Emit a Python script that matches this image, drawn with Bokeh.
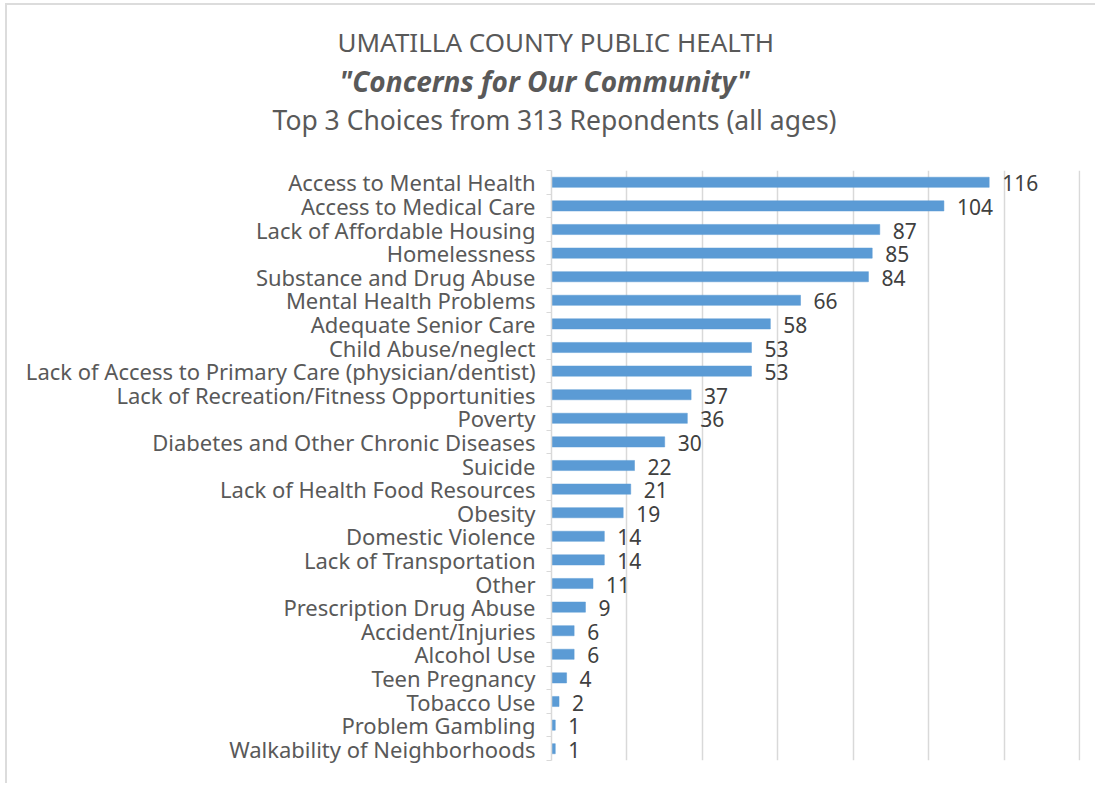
from bokeh.plotting import figure
from bokeh.models import Range1d, FixedTicker, Title, LabelSet, ColumnDataSource
from bokeh.core.properties import value
from bokeh.embed import file_html
from bokeh.resources import INLINE

categories = [
    "Access to Mental Health",
    "Access to Medical Care",
    "Lack of Affordable Housing",
    "Homelessness",
    "Substance and Drug Abuse",
    "Mental Health Problems",
    "Adequate Senior Care",
    "Child Abuse/neglect",
    "Lack of Access to Primary Care (physician/dentist)",
    "Lack of Recreation/Fitness Opportunities",
    "Poverty",
    "Diabetes and Other Chronic Diseases",
    "Suicide",
    "Lack of Health Food Resources",
    "Obesity",
    "Domestic Violence",
    "Lack of Transportation",
    "Other",
    "Prescription Drug Abuse",
    "Accident/Injuries",
    "Alcohol Use",
    "Teen Pregnancy",
    "Tobacco Use",
    "Problem Gambling",
    "Walkability of Neighborhoods",
]
counts = [116, 104, 87, 85, 84, 66, 58, 53, 53, 37, 36, 30, 22, 21, 19, 14, 14, 11, 9, 6, 6, 4, 2, 1, 1]
x_ticks = [0, 20, 40, 60, 80, 100, 120, 140]
title_lines = [
    "UMATILLA  COUNTY  PUBLIC HEALTH",
    "\"Concerns for Our Community\"",
    "Top 3 Choices from 313  Repondents (all ages)",
]

FONT = "Noto Sans"
GRAY = "#595959"
n = len(categories)
ypos = list(range(n))
src = ColumnDataSource(dict(y=ypos, v=counts, lbl=[str(c) for c in counts]))

W, H = 1090, 780
ML, MR, MT, MB = 544, 17, 165, 25

p = figure(width=W, height=H, x_range=Range1d(0, 140.2), y_range=Range1d(n - 0.5, -0.5),
           output_backend="svg", toolbar_location=None, x_axis_location=None, title=None,
           min_border_left=ML, min_border_right=MR, min_border_top=MT, min_border_bottom=MB)
p.outline_line_color = None
p.background_fill_color = "white"
p.border_fill_color = "white"
p.styles = {"border-left": "2px solid #DCDCDC", "border-top": "2px solid #DCDCDC",
            "margin-left": "5px", "margin-top": "3px"}

p.xgrid.ticker = FixedTicker(ticks=x_ticks)
p.xgrid.grid_line_color = "#D9D9D9"
p.xgrid.grid_line_width = 1.5
p.ygrid.visible = False

p.hbar(y="y", left=0, right="v", height=0.43, source=src,
       fill_color="#5B9BD5", line_color="#5B9BD5", line_width=0.5)

labels = LabelSet(x="v", y="y", text="lbl", source=src, x_offset=13, y_offset=-1,
                  text_baseline="middle", text_align="left",
                  text_font=value(FONT), text_font_size="21px", text_color="#404040")
p.add_layout(labels)

ax = p.yaxis[0]
ax.ticker = FixedTicker(ticks=ypos, minor_ticks=[i - 0.5 for i in range(n + 1)])
ax.major_label_overrides = {i: c for i, c in zip(ypos, categories)}
ax.axis_line_color = "#D9D9D9"
ax.axis_line_width = 1.5
ax.major_tick_line_color = None
ax.major_tick_out = 0
ax.major_tick_in = 0
ax.minor_tick_line_color = "#D9D9D9"
ax.minor_tick_out = 5
ax.minor_tick_in = 0
ax.major_label_standoff = 11
ax.major_label_text_font = FONT
ax.major_label_text_font_size = "22px"
ax.major_label_text_color = GRAY

# spacer between the plot area and the title block
p.add_layout(Title(text=" ", text_font_size="1px", standoff=30), "above")
# titles: first added sits nearest the frame; offsets move text left of the frame edge
specs = [
    (title_lines[2], "26.5px", "normal", -279),
    (title_lines[1], "28px", "bold italic", -212),
    (title_lines[0], "26px", "normal", -214),
]
for t, fs, st, off in specs:
    p.add_layout(Title(text=t, align="left", offset=off, standoff=0,
                       text_font=FONT, text_font_size=fs, text_font_style=st,
                       text_color=GRAY), "above")

open("out.html", "w").write(file_html(p, INLINE))
